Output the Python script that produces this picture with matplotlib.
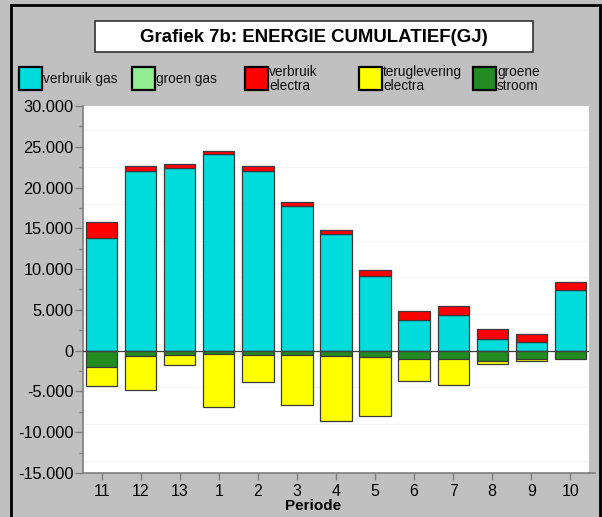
import matplotlib
matplotlib.use("Agg")
import matplotlib.pyplot as plt
from matplotlib.patches import Rectangle
from matplotlib.lines import Line2D
import numpy as np

plt.rcParams['font.family'] = ['Liberation Sans', 'DejaVu Sans']

periodes = ["11", "12", "13", "1", "2", "3", "4", "5", "6", "7", "8", "9", "10"]
verbruik_gas = [13820, 22030, 22350, 24120, 22030, 17740, 14310, 9160, 3800, 4380, 1430, 1020, 7390]
groen_gas = [0, 0, 0, 0, 0, 0, 0, 0, 0, 0, 0, 0, 0]
verbruik_electra = [1960, 650, 550, 320, 570, 490, 530, 740, 1100, 1050, 1230, 1060, 1030]
groene_stroom = [2000, 650, 530, 370, 570, 530, 610, 780, 1060, 1060, 1270, 1060, 1020]
teruglevering = [2330, 4220, 1220, 6530, 3310, 6130, 8010, 7190, 2700, 3190, 360, 170, 0]

yticks = [30000, 25000, 20000, 15000, 10000, 5000, 0, -5000, -10000, -15000]

W, H = 602, 517
fig = plt.figure(figsize=(W / 100, H / 100), dpi=100)
fig.patch.set_facecolor('#c0c0c0')

def fx(px):
    return px / W

def fy(py):
    return 1 - py / H

# outer frame
fig.patches.append(Rectangle((fx(11), fy(520)), fx(600) - fx(11), fy(5) - fy(520),
                             transform=fig.transFigure, fill=False, edgecolor='black',
                             linewidth=2, zorder=0))

# title box
fig.patches.append(Rectangle((fx(95), fy(52)), fx(533) - fx(95), fy(21) - fy(52),
                             transform=fig.transFigure, facecolor='white', edgecolor='#333333',
                             linewidth=1.2, zorder=1))
fig.text(fx(314), fy(37), "Grafiek 7b: ENERGIE CUMULATIEF(GJ)", ha='center', va='center',
         fontsize=13.4, fontweight='bold', color='black')

ax = fig.add_axes([fx(83), fy(473), fx(589) - fx(83), fy(106) - fy(473)])
ax.set_facecolor('white')

x = np.arange(len(periodes))
colors = {
    'gas': '#00dcdc', 'groen': '#90ee90', 'electra': '#ff0000',
    'terug': '#ffff00', 'stroom': '#228b22'
}
ec = '#3a3a3a'
bw = 0.8
gas = np.array(verbruik_gas)
gg = np.array(groen_gas)
el = np.array(verbruik_electra)
gs = np.array(groene_stroom)
tl = np.array(teruglevering)

# faint gridlines
for g in np.arange(-13500, 30000, 4500):
    ax.axhline(g, color='#f7f7f7', linewidth=0.8, zorder=0)

ax.bar(x, gas, bw, color=colors['gas'], edgecolor=ec, linewidth=0.9, zorder=2)
ax.bar(x, gg, bw, bottom=gas, color=colors['groen'], edgecolor=ec, linewidth=0.0, zorder=2)
ax.bar(x, el, bw, bottom=gas + gg, color=colors['electra'], edgecolor=ec, linewidth=0.9, zorder=2)
ax.bar(x, -gs, bw, color=colors['stroom'], edgecolor=ec, linewidth=0.9, zorder=2)
ax.bar(x, -tl, bw, bottom=-gs, color=colors['terug'], edgecolor=ec,
       linewidth=np.where(tl > 0, 0.9, 0.0), zorder=2)
ax.axhline(0, color='#404040', linewidth=0.9, zorder=3)

ax.set_xlim(-0.48, len(periodes) - 0.52)
ax.set_ylim(-15000, 30000)
ax.set_yticks(yticks)
ax.set_yticklabels([f"{v:,}".replace(',', '.') for v in yticks])
ax.set_yticks(np.arange(-12500, 30000, 5000), minor=True)
ax.set_xticks(x)
ax.set_xticklabels(periodes)

for s in ['top', 'right']:
    ax.spines[s].set_visible(False)
ax.spines['left'].set_color('#808080')
ax.spines['bottom'].set_color('#808080')
ax.spines['left'].set_linewidth(1.2)
ax.spines['bottom'].set_linewidth(1.2)
ax.tick_params(axis='y', which='major', length=6, width=1, color='#808080', labelsize=11.8, pad=1)
ax.tick_params(axis='y', which='minor', length=3, width=1, color='#808080')
ax.tick_params(axis='x', which='major', length=5, width=1, color='#808080', labelsize=11.5, pad=3)
ax.set_xlabel("Periode", fontsize=11, fontweight='bold')
ax.xaxis.set_label_coords((313.5 - 83) / (589 - 83), -(506 - 473) / (473 - 106))
ax.xaxis.label.set_va('center')

# bottom axis line extends slightly beyond plot area
fig.lines.append(Line2D([fx(589), fx(595)], [fy(473), fy(473)], transform=fig.transFigure,
                        color='#808080', linewidth=1.2))

# legend
legend_items = [
    (19, colors['gas'], "verbruik gas"),
    (132, colors['groen'], "groen gas"),
    (245, colors['electra'], "verbruik\nelectra"),
    (359, colors['terug'], "teruglevering\nelectra"),
    (473, colors['stroom'], "groene\nstroom"),
]
for px, c, lab in legend_items:
    fig.patches.append(Rectangle((fx(px), fy(90)), fx(23), fy(67) - fy(90),
                                 transform=fig.transFigure, facecolor=c, edgecolor='black',
                                 linewidth=1.6, zorder=2))
    fig.text(fx(px + 24), fy(79), lab, ha='left', va='center', fontsize=9.8,
             linespacing=1.0, color='#111111')

fig.savefig("out.png", dpi=100, facecolor=fig.get_facecolor())
